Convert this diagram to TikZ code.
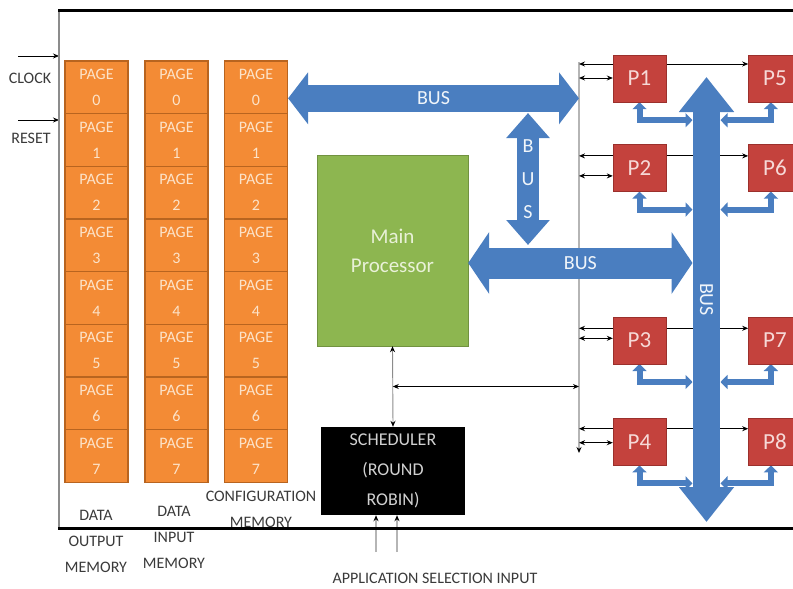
\documentclass[tikz,border=0pt]{standalone}
\usepackage{fontspec}
\setmainfont{Carlito}
\usepackage{xcolor}
\definecolor{PageOrange}{HTML}{F38B35}
\definecolor{PageEdge}{HTML}{B8641F}
\definecolor{PageText}{HTML}{FCE3C9}
\definecolor{CoreGreen}{HTML}{8DB650}
\definecolor{CoreText}{HTML}{E9F1D8}
\definecolor{PeRed}{HTML}{C4423D}
\definecolor{PeEdge}{HTML}{9B302C}
\definecolor{PeText}{HTML}{F6D9D7}
\definecolor{BusBlue}{HTML}{4A7EC0}
\definecolor{WireGray}{HTML}{B5B5B5}
\definecolor{LabelGray}{HTML}{3A3A3A}
\usepackage{tikz}
\usetikzlibrary{positioning,arrows.meta,calc}
\pgfdeclarelayer{bg}
\pgfsetlayers{bg,main}
\tikzset{
  pagebox/.style={draw=PageEdge,line width=1.2pt,fill=PageOrange,minimum width=63pt,minimum height=52.6pt,inner sep=0pt,align=center,text=PageText,font=\fontsize{16}{26}\selectfont},
  corebox/.style={draw=CoreGreen!80!black,fill=CoreGreen,minimum width=151pt,minimum height=191pt,align=center,text=CoreText,font=\fontsize{21}{29}\selectfont},
  schedbox/.style={fill=black,minimum width=144pt,minimum height=88pt,align=center,text=black!18,font=\fontsize{18}{30}\selectfont},
  pebox/.style={draw=PeEdge,fill=PeRed,minimum width=53pt,minimum height=47pt,text=PeText,font=\fontsize{23}{24}\selectfont},
  memlabel/.style={align=center,text=LabelGray,inner sep=0pt,font=\fontsize{16}{26}\selectfont},
  note/.style={text=LabelGray,inner sep=0pt,font=\fontsize{16}{20}\selectfont},
  buslabel/.style={text=white!92!BusBlue,inner sep=0pt,font=\fontsize{20}{33}\selectfont},
  bus/.style={draw=BusBlue,line width=27pt,{Triangle[width=51pt,length=20pt]}-{Triangle[width=51pt,length=20pt]}},
  minibus/.style={draw=BusBlue,line width=6pt,{Triangle[width=14pt,length=7pt]}-{Triangle[width=14pt,length=7pt]}},
  wire/.style={draw=black,line width=0.9pt,{Stealth[length=6pt,width=5pt]}-{Stealth[length=6pt,width=5pt]}},
  graywire/.style={draw=WireGray,line width=1.6pt},
  graytip/.style={-{Stealth[length=6pt,width=5pt,color=black]}}
}

\begin{document}
\begin{tikzpicture}[x=1pt,y=-1pt]
  \useasboundingbox (0,0) rectangle (793,589);

  \foreach \mem/\x in {dout/96.5,din/176.5,cfg/256}
    \foreach \i in {0,...,7}
      \node[pagebox] (\mem\i) at (\x,{87.3+52.65*\i}) {PAGE\\\i};

  \node[memlabel] (doutlbl) at (96,541) {DATA\\OUTPUT\\MEMORY};
  \node[memlabel] (dinlbl) at (174,537) {DATA\\INPUT\\MEMORY};
  \node[memlabel] (cfglbl) at (261,509) {CONFIGURATION\\MEMORY};

  \node[note] (clklbl) at (30,78) {CLOCK};
  \node[note] (rstlbl) at (31,138) {RESET};
  \coordinate (clk) at (59,56);
  \coordinate (rst) at (59,120);
  \draw[wire,-{Stealth[length=6pt,width=5pt]}] ([xshift=-41pt]clk) -- (clk);
  \draw[wire,-{Stealth[length=6pt,width=5pt]}] ([xshift=-41pt]rst) -- (rst);

  \node[corebox] (main) at (392.5,250.5) {Main\\Processor};
  \node[schedbox] (sched) at (393,471) {SCHEDULER\\(ROUND\\ROBIN)};

  \node[pebox] (p1) at (639.5,78.5) {P1};
  \node[pebox,below=42pt of p1] (p2) {P2};
  \node[pebox,below=125pt of p2] (p3) {P3};
  \node[pebox,below=54pt of p3] (p4) {P4};
  \node[pebox,right=82pt of p1] (p5) {P5};
  \node[pebox,right=82pt of p2] (p6) {P6};
  \node[pebox,right=82pt of p3] (p7) {P7};
  \node[pebox,right=82pt of p4] (p8) {P8};

  \coordinate (gtop) at (579,62);
  \coordinate (gbot) at (579,453);
  \coordinate (busL) at (692.5,0);
  \coordinate (busR) at (720.5,0);
  \coordinate (bbtop) at (706.5,77);
  \coordinate (bbbot) at (706.5,522);
  \coordinate (vbtop) at (528,113);
  \coordinate (vbbot) at (528,245);
  \coordinate (tap) at ($(main.south)!0.5!(sched.north)$);
  \coordinate (appA) at (376,552);
  \coordinate (appB) at (397,552);

  \begin{pgfonlayer}{bg}
    \draw[graywire,graytip] (gtop) -- (gbot);
    \foreach \a/\b/\u/\l in {p1/p5/14.5/0.5,p2/p6/12/-8,p3/p7/12/2,p4/p8/13/-1}{
      \draw[wire] ([yshift=\u pt]\b.west) -- ([yshift=\u pt]\b.west -| gtop);
      \draw[wire] ([yshift=\l pt]\a.west) -- ([yshift=\l pt]\a.west -| gtop);
    }
    \draw[bus,{Triangle[width=53pt,length=35pt]}-{Triangle[width=53pt,length=35pt]}] (bbtop) -- (bbbot)
      node[midway,buslabel,rotate=-90] {BUS};
    \foreach \a/\b in {p1/p5,p2/p6,p3/p7,p4/p8}{
      \draw[minibus] (\a.south) |- ([yshift=-18pt]\a.south -| busL);
      \draw[minibus] ([xshift=-4pt]\b.south) |- ([yshift=-18pt]\b.south -| busR);
    }
  \end{pgfonlayer}

  \draw[bus] ([yshift=-11pt]cfg0.east) -- ([yshift=-11pt]cfg0.east -| gtop)
    node[midway,buslabel] {BUS};
  \draw[bus,line width=22pt,{Triangle[width=42pt,length=25pt]}-{Triangle[width=42pt,length=25pt]}] (vbtop) -- (vbbot)
    node[midway,buslabel,align=center] {B\\U\\S};
  \draw[bus,line width=31pt,{Triangle[width=61pt,length=21pt]}-{Triangle[width=61pt,length=21pt]}] ([yshift=-12.5pt]main.east) -- ([yshift=-12.5pt]main.east -| busL)
    node[pos=0.5,buslabel] {BUS};

  \draw[wire,draw=black!45,{Stealth[length=6pt,width=5pt,color=black]}-{Stealth[length=6pt,width=5pt,color=black]}] (main.south) -- (sched.north);
  \draw[wire] (tap) -- (tap -| gtop);
  \draw[graywire,graytip] (appA) -- (appA |- sched.south);
  \draw[graywire,graytip] (appB) -- (appB |- sched.south);
  \node[note] (applbl) at (435,578) {APPLICATION SELECTION INPUT};

  \draw[black!45,line width=2pt] (59,10) -- (59,528);
  \draw[black,line width=3pt] (58,10) -- (793,10);
  \draw[black,line width=3pt] (58,528) -- (793,528);
\end{tikzpicture}
\end{document}
